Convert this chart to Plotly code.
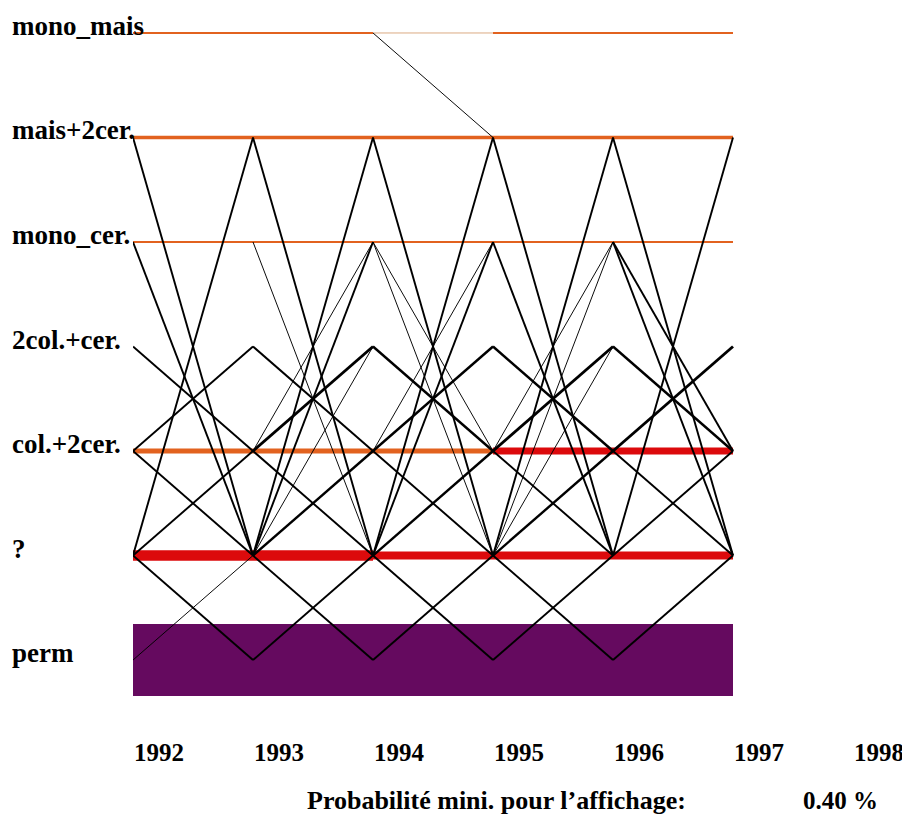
import plotly.graph_objects as go

# ---------------- data ----------------
states = ["mono_mais", "mais+2cer.", "mono_cer.", "2col.+cer.", "col.+2cer.", "?", "perm"]
years = [1992, 1993, 1994, 1995, 1996, 1997, 1998]
footer_label = "Probabilité mini. pour l\u2019affichage:"
footer_value = "0.40 %"

# probability (%) of staying in the same state, per interval 1992-93 ... 1996-97
stay_mono_mais = [1.2, 1.2, 0.6, 1.2, 1.2]
stay_mais_2cer = [2.2, 2.2, 2.2, 2.2, 2.2]
stay_mono_cer = [1.3, 1.3, 1.3, 1.3, 1.3]
stay_2col_cer = [0.0, 0.0, 0.0, 0.0, 0.0]
stay_col_2cer = [3.2, 3.2, 3.2, 4.4, 4.4]
stay_unknown = [6.5, 6.5, 5.0, 5.0, 5.0]
stay_perm = [45.0, 45.0, 45.0, 45.0, 45.0]

# transitions between different states: interval index, from state, to state, probability (%)
trans_interval = [
    0, 0, 0, 0, 0, 0, 0, 0, 0,
    1, 1, 1, 1, 1, 1, 1, 1, 1, 1, 1, 1,
    2, 2, 2, 2, 2, 2, 2, 2, 2, 2, 2, 2, 2,
    3, 3, 3, 3, 3, 3, 3, 3, 3, 3, 3, 3,
    4, 4, 4, 4, 4, 4, 4, 4, 4,
]
trans_from = [
    1, 2, 5, 3, 4, 4, 5, 5, 6,
    1, 5, 2, 5, 4, 3, 4, 5, 4, 5, 5, 6,
    0, 1, 5, 2, 2, 5, 4, 3, 4, 4, 5, 5, 6,
    1, 5, 2, 5, 4, 3, 4, 5, 4, 5, 5, 6,
    1, 5, 2, 2, 3, 4, 4, 5, 6,
]
trans_to = [
    5, 5, 1, 4, 3, 5, 4, 6, 5,
    5, 1, 5, 2, 2, 4, 3, 3, 5, 4, 6, 5,
    1, 5, 1, 5, 4, 2, 2, 4, 3, 5, 4, 6, 5,
    5, 1, 5, 2, 2, 4, 3, 3, 5, 4, 6, 5,
    5, 1, 5, 4, 4, 3, 5, 4, 5,
]
trans_prob = [
    1.2, 1.2, 1.2, 1.2, 1.2, 1.2, 1.2, 1.2, 0.6,
    1.2, 1.2, 0.6, 1.2, 0.6, 1.2, 1.8, 0.6, 1.2, 1.5, 1.2, 1.2,
    0.6, 1.2, 1.2, 0.6, 0.6, 1.2, 0.6, 1.5, 1.5, 1.2, 1.5, 1.2, 1.2,
    1.2, 1.2, 1.2, 0.6, 0.6, 1.5, 1.8, 0.6, 1.2, 1.5, 1.2, 1.2,
    1.2, 1.2, 1.2, 1.2, 1.5, 1.8, 1.2, 1.2, 1.2,
]

# ---------------- styling ----------------
PX_PER_PCT = 1.6
FONT = "Liberation Serif"
ORANGE = "#E2621F"
RED = "#DC0A0C"
PURPLE = "#650A5F"
TAN = "#D9A67C"


def level(i):
    return len(states) - 1 - i


def stay_color(p):
    if p < 0.8:
        return TAN
    if p < 4.0:
        return ORANGE
    if p < 20:
        return RED
    return PURPLE


fig = go.Figure()

stays = [stay_mono_mais, stay_mais_2cer, stay_mono_cer, stay_2col_cer,
         stay_col_2cer, stay_unknown, stay_perm]
for s, probs in enumerate(stays):
    for t, p in enumerate(probs):
        if p <= 0:
            continue
        fig.add_trace(go.Scatter(
            x=[years[t], years[t + 1]], y=[level(s), level(s)],
            mode="lines", line=dict(color=stay_color(p), width=p * PX_PER_PCT),
            hoverinfo="skip", showlegend=False))

for t, a, b, p in zip(trans_interval, trans_from, trans_to, trans_prob):
    fig.add_trace(go.Scatter(
        x=[years[t], years[t + 1]], y=[level(a), level(b)],
        mode="lines", line=dict(color="black", width=p * PX_PER_PCT),
        hoverinfo="skip", showlegend=False))

annotations = []
for i, name in enumerate(states):
    annotations.append(dict(
        x=0, xref="paper", xshift=-123, xanchor="left",
        y=level(i), yref="y", yshift=7, yanchor="middle",
        text=f"<b>{name}</b>", showarrow=False,
        font=dict(family=FONT, size=27, color="black")))
for yv in years:
    annotations.append(dict(
        x=yv, xref="x", xshift=26, xanchor="center",
        y=0, yref="paper", yshift=-42, yanchor="middle",
        text=f"<b>{yv}</b>", showarrow=False,
        font=dict(family=FONT, size=25, color="black")))
annotations.append(dict(
    x=0.5, xref="paper", xanchor="center", xshift=3,
    y=0, yref="paper", yshift=-90, yanchor="middle",
    text=f"<b>{footer_label}</b>", showarrow=False,
    font=dict(family=FONT, size=26, color="black")))
annotations.append(dict(
    x=0.5, xref="paper", xanchor="center", xshift=347,
    y=0, yref="paper", yshift=-90, yanchor="middle",
    text=f"<b>{footer_value}</b>", showarrow=False,
    font=dict(family=FONT, size=25, color="black")))

fig.update_layout(
    width=902, height=806,
    margin=dict(l=125, r=57, t=0, b=104),
    paper_bgcolor="white", plot_bgcolor="white",
    xaxis=dict(range=[1992, 1998], visible=False, fixedrange=True),
    yaxis=dict(range=[-0.478, 6.239], visible=False, fixedrange=True),
    annotations=annotations,
    showlegend=False,
)

fig.write_html("out.html", config={"displayModeBar": False})
